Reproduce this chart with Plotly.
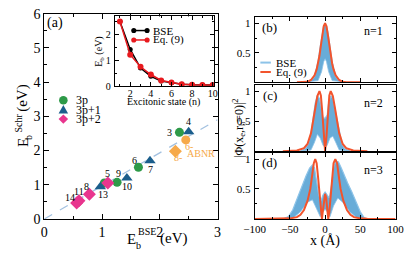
import plotly.graph_objects as go

W, H = 415, 259
FONT = "Liberation Serif"

# ---------------- data: panel (a) ----------------
p3_x = [2.34, 1.63, 1.26, 1.04]
p3_y = [2.53, 1.51, 1.07, 1.05]
p3_lab = ["3", "6", "9", ""]

p31_x = [2.50, 1.83, 1.43, 0.97]
p31_y = [2.55, 1.70, 1.20, 0.94]
p31_lab = ["4", "7", "10", "13"]

p32_x = [1.10, 0.78, 0.60, 0.56]
p32_y = [1.05, 0.72, 0.53, 0.47]
p32_lab = ["5", "8", "11", "14"]

abnr_circ_x = [2.45]
abnr_circ_y = [2.31]
abnr_dia_x = [2.27]
abnr_dia_y = [1.98]

fit_x = [0.0, 3.0]
fit_y = [0.0, 2.90]

# inset
n_states = [1, 2, 3, 4, 5, 6, 7, 8, 9, 10]
eb_bse = [2.50, 1.42, 0.70, 0.38, 0.20, 0.13, 0.07, 0.05, 0.04, 0.04]
eb_eq9 = [2.50, 1.22, 0.75, 0.45, 0.22, 0.14, 0.07, 0.05, 0.04, 0.04]

# ---------------- data: panels (b)-(d) ----------------
n1_eq_x = [-40, -30, -25, -20, -15, -12, -10, -8, -6, -4, -2, 0, 2, 4, 6, 8, 10, 12, 15, 20, 25, 30, 40, 50]
n1_eq_y = [0, 0.003, 0.01, 0.04, 0.12, 0.22, 0.32, 0.45, 0.62, 0.80, 0.95, 1.0, 0.95, 0.80, 0.62, 0.45, 0.32, 0.22, 0.12, 0.04, 0.01, 0.003, 0, 0]
n1_bse_up_x = [-30, -20, -15, -10, -7, -4, -2, 0, 2, 4, 7, 10, 15, 20, 30]
n1_bse_up_y = [0, 0.03, 0.10, 0.35, 0.60, 0.85, 0.95, 0.98, 0.95, 0.85, 0.60, 0.35, 0.10, 0.03, 0]
n1_bse_lo_x = [-30, -10, -5, -2, 0, 2, 5, 10, 30]
n1_bse_lo_y = [0, 0.03, 0.18, 0.35, 0.40, 0.35, 0.18, 0.03, 0]

n2_eq_x = [-60, -40, -30, -25, -20, -17, -14, -11, -8, -6, -4, -2, 0, 2, 4, 6, 8, 11, 14, 17, 20, 25, 30, 40, 60]
n2_eq_y = [0, 0.01, 0.05, 0.12, 0.30, 0.50, 0.72, 0.92, 1.0, 0.93, 0.65, 0.25, 0, 0.25, 0.65, 0.93, 1.0, 0.92, 0.72, 0.50, 0.30, 0.12, 0.05, 0.01, 0]
n2_bse_up_x = [-35, -28, -24, -20, -17, -14, -11, -8, -5, -3, 0, 3, 5, 8, 11, 14, 17, 20, 24, 28, 35]
n2_bse_up_y = [0, 0.04, 0.12, 0.30, 0.55, 0.80, 0.93, 0.88, 0.70, 0.55, 0.55, 0.60, 0.80, 0.92, 0.88, 0.70, 0.50, 0.30, 0.12, 0.04, 0]
n2_bse_lo_x = [-35, -20, -15, -11, -7, -3, 0, 3, 7, 11, 15, 20, 35]
n2_bse_lo_y = [0, 0.02, 0.15, 0.28, 0.22, 0.10, 0.06, 0.10, 0.22, 0.25, 0.15, 0.02, 0]

n3_eq_x = [-100, -60, -50, -40, -35, -30, -25, -21, -18, -16, -14, -12, -10, -8, -6, -4.5, -3, -1.5, 0,
           1.5, 3, 4.5, 6, 8, 10, 12, 14.5, 17, 19, 22, 26, 31, 36, 41, 50, 60, 100]
n3_eq_y = [0, 0.003, 0.01, 0.03, 0.07, 0.15, 0.30, 0.50, 0.75, 0.93, 1.0, 0.93, 0.70, 0.40, 0.12, 0, 0.15, 0.35, 0.42,
           0.35, 0.15, 0, 0.12, 0.40, 0.70, 0.93, 1.0, 0.93, 0.75, 0.50, 0.30, 0.15, 0.07, 0.03, 0.01, 0.003, 0]
n3_bse_up_x = [-60, -52, -46, -41, -36, -32, -27, -22, -18, -15, -12, -9, -6, -3, 0, 3, 6, 9, 12, 15, 19, 23, 27, 32, 38, 44, 50, 55, 60]
n3_bse_up_y = [0, 0.04, 0.15, 0.30, 0.45, 0.60, 0.72, 0.85, 0.90, 0.85, 0.65, 0.40, 0.30, 0.40, 0.45, 0.40, 0.35, 0.55, 0.85, 0.97, 0.95, 0.85, 0.73, 0.60, 0.45, 0.28, 0.12, 0.03, 0]
n3_bse_lo_x = [-60, -45, -35, -25, -18, -12, -7, -3, 0, 3, 7, 12, 18, 25, 35, 45, 60]
n3_bse_lo_y = [0, 0.02, 0.12, 0.28, 0.32, 0.15, 0.04, 0.12, 0.16, 0.12, 0.04, 0.22, 0.35, 0.28, 0.12, 0.02, 0]

# ---------------- styling ----------------
GREEN = "#2E9A48"
BLUE = "#1B5E8C"
PINK = "#E8358E"
ORANGE = "#F6A94A"
RED = "#F2542D"
LBLUE = "#8DC3E8"
MBLUE = "#68ACD8"


def px(x):
    return x / W


def py(y):
    return 1 - y / H


fig = go.Figure()

# panel (a)
fig.add_trace(go.Scatter(x=fit_x, y=fit_y, mode="lines", line=dict(color="#A3C1E0", width=1.3, dash="dash"),
                         xaxis="x", yaxis="y", hoverinfo="skip"))
fig.add_trace(go.Scatter(x=p3_x, y=p3_y, mode="markers", marker=dict(symbol="circle", size=9, color=GREEN),
                         xaxis="x", yaxis="y"))
fig.add_trace(go.Scatter(x=p31_x, y=p31_y, mode="markers", marker=dict(symbol="triangle-up", size=10, color=BLUE),
                         xaxis="x", yaxis="y"))
fig.add_trace(go.Scatter(x=p32_x, y=p32_y, mode="markers", marker=dict(symbol="diamond", size=10, color=PINK),
                         xaxis="x", yaxis="y"))
fig.add_trace(go.Scatter(x=abnr_circ_x, y=abnr_circ_y, mode="markers", marker=dict(symbol="circle", size=9, color=ORANGE),
                         xaxis="x", yaxis="y"))
fig.add_trace(go.Scatter(x=abnr_dia_x, y=abnr_dia_y, mode="markers", marker=dict(symbol="diamond", size=10, color=ORANGE),
                         xaxis="x", yaxis="y"))

# inset
fig.add_trace(go.Scatter(x=n_states, y=eb_bse, mode="lines+markers", line=dict(color="black", width=1.5),
                         marker=dict(size=5, color="black"), xaxis="x2", yaxis="y2"))
fig.add_trace(go.Scatter(x=n_states, y=eb_eq9, mode="lines+markers", line=dict(color="#E8191E", width=1.5),
                         marker=dict(size=6, color="#E8191E"), xaxis="x2", yaxis="y2"))

# panels b-d
panels = [
    (n1_bse_lo_x, n1_bse_lo_y, n1_bse_up_x, n1_bse_up_y, n1_eq_x, n1_eq_y, "x3", "y3"),
    (n2_bse_lo_x, n2_bse_lo_y, n2_bse_up_x, n2_bse_up_y, n2_eq_x, n2_eq_y, "x4", "y4"),
    (n3_bse_lo_x, n3_bse_lo_y, n3_bse_up_x, n3_bse_up_y, n3_eq_x, n3_eq_y, "x5", "y5"),
]
for lx, ly, ux, uy, ex, ey, xa, ya in panels:
    fig.add_trace(go.Scatter(x=lx, y=ly, mode="lines", line=dict(color=LBLUE, width=0.8), xaxis=xa, yaxis=ya))
    fig.add_trace(go.Scatter(x=ux, y=uy, mode="lines", line=dict(color=LBLUE, width=1.2), fill="tonexty",
                             fillcolor=MBLUE, xaxis=xa, yaxis=ya))
    fig.add_trace(go.Scatter(x=ex, y=ey, mode="lines", line=dict(color=RED, width=2), xaxis=xa, yaxis=ya))

axis_common = dict(showline=True, linecolor="black", linewidth=1, mirror="allticks", ticks="inside",
                   tickcolor="black", showgrid=False, zeroline=False, ticklabeloverflow="allow",
                   tickfont=dict(family=FONT, color="black"))

layout = dict(
    width=W, height=H, autosize=False, margin=dict(l=0, r=0, t=0, b=0), showlegend=False,
    paper_bgcolor="white", plot_bgcolor="white", font=dict(family=FONT, color="black"),
    xaxis=dict(axis_common, domain=[px(35), px(217)], range=[0, 3], dtick=1, ticklen=5,
               minor=dict(ticks="inside", dtick=0.5, ticklen=3, tickcolor="black"),
               tickfont=dict(family=FONT, size=14, color="black"), anchor="y"),
    yaxis=dict(axis_common, domain=[py(225), py(7)], range=[0, 6], dtick=1, ticklen=5,
               minor=dict(ticks="inside", dtick=0.5, ticklen=3, tickcolor="black"),
               tickfont=dict(family=FONT, size=14, color="black"), anchor="x"),
    xaxis2=dict(axis_common, domain=[px(109), px(213)], range=[0.5, 10.1], tickvals=[2, 4, 6, 8, 10], ticklen=4,
                minor=dict(ticks="inside", tickvals=[1, 3, 5, 7, 9], ticklen=2, tickcolor="black"),
                tickfont=dict(family=FONT, size=10, color="black"), anchor="y2", ticklabelstandoff=-2),
    yaxis2=dict(axis_common, domain=[py(84), py(10)], range=[0, 2.7], dtick=1, ticklen=4,
                minor=dict(ticks="inside", dtick=0.5, ticklen=2, tickcolor="black"),
                tickfont=dict(family=FONT, size=10, color="black"), anchor="x2", ticklabelstandoff=1),
)
right_dom = [px(256), px(404)]
ydoms = [[py(80), py(11)], [py(153), py(83)], [py(225), py(155)]]
for i, (xa, ya) in enumerate([("xaxis3", "yaxis3"), ("xaxis4", "yaxis4"), ("xaxis5", "yaxis5")]):
    k = i + 3
    layout[xa] = dict(axis_common, domain=right_dom, range=[-100, 100], dtick=50, ticklen=4,
                      minor=dict(ticks="inside", dtick=25, ticklen=2, tickcolor="black"),
                      showticklabels=(k == 5), tickfont=dict(family=FONT, size=11, color="black"),
                      anchor=f"y{k}")
    layout[ya] = dict(axis_common, domain=ydoms[i], range=[0, 1.1], tickvals=[0.5, 1], ticktext=["0.5", "1"],
                      ticklen=4, minor=dict(ticks="inside", tickvals=[0.25, 0.75], ticklen=2, tickcolor="black"),
                      tickfont=dict(family=FONT, size=11, color="black"), anchor=f"x{k}", ticklabelstandoff=1)
fig.update_layout(**layout)

ann = []


def text(x, y, s, size, color="black", xanchor="center", angle=0):
    ann.append(dict(x=px(x), y=py(y), xref="paper", yref="paper", text=s, showarrow=False,
                    font=dict(family=FONT, size=size, color=color), xanchor=xanchor, yanchor="middle",
                    textangle=angle))


# point labels
label_shift = {"3": (-10, 0), "4": (0, 10), "6": (-4, 7), "7": (1, -9), "9": (1, 9), "10": (0, -9),
               "5": (0, 10), "13": (3, -8), "8": (-3, 8), "11": (0, 9), "14": (-7, 5)}
for xs, ys, labs in [(p3_x, p3_y, p3_lab), (p31_x, p31_y, p31_lab), (p32_x, p32_y, p32_lab)]:
    for xv, yv, lb in zip(xs, ys, labs):
        if lb:
            dx, dy = label_shift[lb]
            ann.append(dict(x=xv, y=yv, xref="x", yref="y", text=lb, showarrow=False, xshift=dx, yshift=dy,
                            font=dict(family=FONT, size=10, color="black")))
ann.append(dict(x=abnr_circ_x[0], y=abnr_circ_y[0], xref="x", yref="y", text="6-", showarrow=False,
                xshift=3, yshift=-7, font=dict(family=FONT, size=10, color=ORANGE)))
ann.append(dict(x=abnr_dia_x[0], y=abnr_dia_y[0], xref="x", yref="y", text="8-", showarrow=False,
                xshift=3, yshift=-6, font=dict(family=FONT, size=10, color=ORANGE)))
text(200, 155, "ABNR", 10, ORANGE)

text(46, 17, "(a)", 14)
text(272, 22, "(b)", 13)
text(272, 94, "(c)", 13)
text(272, 165, "(d)", 13)
text(381, 26, "n=1", 12)
text(381, 102, "n=2", 12)
text(381, 173, "n=3", 12)

# main axis titles (stacked sub/superscripts)
text(12, 97, "(eV)", 15, angle=-90)
text(8, 123, "Schr", 10, angle=-90)
text(12, 144, "E", 15, angle=-90)
text(19, 139, "b", 10, angle=-90)

text(127, 246, "E", 15)
text(134, 253, "b", 10)
text(131, 238, "BSE", 10, xanchor="left")
text(154, 246, "(eV)", 15, xanchor="left")

text(330, 248, "x (Å)", 14)
text(240, 129, "|Φ(x<sub>e</sub>,r<sub>h</sub>=0)|<sup>2</sup>", 12, angle=-90)
text(93, 48, "E<sub>b</sub> (eV)", 10, angle=-90)
text(160, 101, "Excitonic state (n)", 10)

shapes = []

# legend (a)
for yy, col, sym, lab in [(99, GREEN, "c", "3p"), (109, BLUE, "t", "3p+1"), (119, PINK, "d", "3p+2")]:
    cx = 55
    if sym == "c":
        shapes.append(dict(type="circle", xref="paper", yref="paper", x0=px(cx - 4.5), x1=px(cx + 4.5),
                           y0=py(yy + 4.5), y1=py(yy - 4.5), fillcolor=col, line=dict(width=0)))
    elif sym == "t":
        path = f"M {px(cx - 5)} {py(yy + 4)} L {px(cx + 5)} {py(yy + 4)} L {px(cx)} {py(yy - 5)} Z"
        shapes.append(dict(type="path", xref="paper", yref="paper", path=path, fillcolor=col, line=dict(width=0)))
    else:
        path = f"M {px(cx - 5)} {py(yy)} L {px(cx)} {py(yy - 5)} L {px(cx + 5)} {py(yy)} L {px(cx)} {py(yy + 5)} Z"
        shapes.append(dict(type="path", xref="paper", yref="paper", path=path, fillcolor=col, line=dict(width=0)))
    text(66, yy, lab, 12, xanchor="left")

# legend inset
for yy, col, lab in [(25, "black", "BSE"), (35, "#E8191E", "Eq. (9)")]:
    shapes.append(dict(type="line", xref="paper", yref="paper", x0=px(129), x1=px(143), y0=py(yy), y1=py(yy),
                       line=dict(color=col, width=1.5)))
    for cx in (129, 143):
        shapes.append(dict(type="circle", xref="paper", yref="paper", x0=px(cx - 2.7), x1=px(cx + 2.7),
                           y0=py(yy + 2.7), y1=py(yy - 2.7), fillcolor=col, line=dict(width=0)))
    text(147, yy, lab, 11, xanchor="left")

# legend right
for yy, col, lab in [(59, LBLUE, "BSE"), (69, RED, "Eq. (9)")]:
    shapes.append(dict(type="line", xref="paper", yref="paper", x0=px(262), x1=px(273), y0=py(yy), y1=py(yy),
                       line=dict(color=col, width=2)))
    text(276, yy, lab, 11, xanchor="left")

fig.update_layout(annotations=ann, shapes=shapes)
fig.write_html("out.html", config={"displayModeBar": False},
               post_script="document.body.style.margin='0';document.body.style.overflow='hidden';")
